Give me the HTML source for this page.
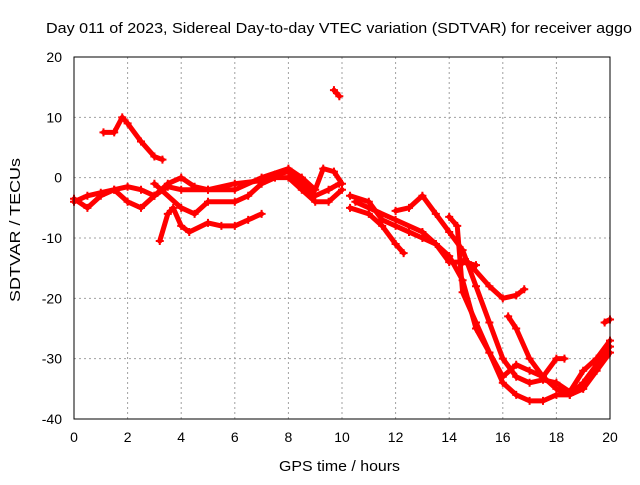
<!DOCTYPE html>
<html><head><meta charset="utf-8"><style>
body{margin:0;background:#fff;width:640px;height:480px;overflow:hidden;font-family:"Liberation Sans",sans-serif;}
svg text{font-family:"Liberation Sans",sans-serif;font-size:14px;fill:#000;}
</style></head><body>
<svg id="chart" width="640" height="480" xmlns="http://www.w3.org/2000/svg">
<text x="46" y="33" textLength="586" lengthAdjust="spacingAndGlyphs" style="font-size:15px">Day 011 of 2023, Sidereal Day-to-day VTEC variation (SDTVAR) for receiver aggo</text>
<text x="279" y="471" textLength="121" lengthAdjust="spacingAndGlyphs" style="font-size:15px">GPS time / hours</text>
<text transform="translate(20,302) rotate(-90)" textLength="144" lengthAdjust="spacingAndGlyphs" style="font-size:15px">SDTVAR / TECUs</text>
<g id="grid"></g><g id="marks"></g><g id="axes"></g>
</svg>
<script>
const xTicks=[0,2,4,6,8,10,12,14,16,18,20];
const yTicks=[20,10,0,-10,-20,-30,-40];
const trackA=[[0,-4],[0.5,-3],[1,-2.5],[1.5,-2],[2,-1.5],[2.5,-2],[3,-3],[3.5,-1],[4,0],[4.5,-1.5],[5,-2],[6,-1],[7,-0.5],[7.5,0.5],[8,1],[8.5,-1],[9,-3],[9.5,-2],[9.9,-1]];
const trackB=[[0,-3.5],[0.5,-5],[1,-3],[1.5,-2],[2,-4],[2.5,-5],[3,-3],[3.5,-1.5],[4,-2],[5,-2],[6,-2],[7,0],[8,1.5],[8.5,0],[9,-2],[9.3,1.5],[9.7,1],[10,-1]];
const trackC=[[1.1,7.5],[1.5,7.5],[1.8,10],[2,9],[2.5,6],[3,3.5],[3.3,3]];
const trackD=[[3.2,-10.5],[3.5,-6],[3.7,-5],[4,-8],[4.3,-9],[5,-7.5],[5.5,-8],[6,-8],[6.5,-7],[7,-6]];
const trackE=[[3,-1],[4,-5],[4.5,-6],[5,-4],[6,-4],[6.5,-3],[7,-1],[7.5,0],[8,0],[8.5,-2],[9,-4],[9.5,-4],[10,-2]];
const trackF=[[9.7,14.5],[9.9,13.5]];
const trackG=[[10.3,-3],[11,-4],[11.5,-7],[12,-8],[12.5,-9],[13,-10],[13.5,-11],[14,-14],[14.5,-14],[15,-14.5]];
const trackH=[[10.3,-5],[11,-6],[11.5,-8],[12,-11],[12.3,-12.5]];
const trackI=[[10.5,-4],[11,-5],[12,-7],[13,-9],[13.5,-11],[14,-13],[14.5,-17],[15,-25],[15.5,-29],[16,-34],[16.5,-36],[17,-37],[17.5,-37],[18,-36],[18.5,-36],[19,-34],[19.5,-31],[20,-28]];
const trackJ=[[12,-5.5],[12.5,-5],[13,-3],[13.5,-6],[14,-9],[14.5,-12],[15,-18],[15.5,-24],[16,-30],[16.5,-33],[17,-34],[17.5,-33.5],[18,-34],[18.5,-35.5],[19,-32],[19.5,-30],[20,-27]];
const trackK=[[14,-6.5],[14.3,-8],[14.5,-19],[15,-24],[15.5,-29],[16,-33],[16.5,-31],[17,-32],[17.5,-33],[18,-30],[18.3,-30]];
const trackL=[[14.7,-14],[15.5,-18],[16,-20],[16.5,-19.5],[16.8,-18.5]];
const trackM=[[16.2,-23],[16.5,-25],[17,-30],[17.5,-33],[18,-35],[18.5,-36],[19,-35],[19.5,-32],[20,-29]];
const trackN=[[19.8,-24],[20,-23.5]];
const tracks=[trackA,trackB,trackC,trackD,trackE,trackF,trackG,trackH,trackI,trackJ,trackK,trackL,trackM,trackN];
const L=74,R=610,T=57,B=419;
const sx=v=>L+(v-0)/20*(R-L);
const sy=v=>B-(v+40)/60*(B-T);
const NS="http://www.w3.org/2000/svg";
const grid=document.getElementById('grid'),axes=document.getElementById('axes'),marks=document.getElementById('marks');
function mk(tag,attrs,parent){const e=document.createElementNS(NS,tag);for(const k in attrs)e.setAttribute(k,attrs[k]);parent.appendChild(e);return e;}
xTicks.forEach(t=>{
 const g=mk('line',{x1:sx(t),x2:sx(t),y1:T,y2:B,stroke:'#a0a0a0','stroke-dasharray':'2,3','stroke-width':1},grid);
 
 
 const tx=mk('text',{x:sx(t),y:B+23,'text-anchor':'middle'},axes);tx.textContent=t;
 
 
});
yTicks.forEach(t=>{
 const g=mk('line',{x1:L,x2:R,y1:sy(t),y2:sy(t),stroke:'#a0a0a0','stroke-dasharray':'2,3','stroke-width':1},grid);
 
 
 const tx=mk('text',{x:L-12,y:sy(t)+5,'text-anchor':'end'},axes);tx.textContent=t;
 
 
});
const frame=mk('rect',{x:L,y:T,width:R-L,height:B-T,fill:'none',stroke:'#000','stroke-width':1},axes);


tracks.forEach(tr=>{
 const p=mk('polyline',{points:tr.map(d=>sx(d[0])+','+sy(d[1])).join(' '),fill:'none',stroke:'#ff0000','stroke-width':5,'stroke-linejoin':'round','stroke-linecap':'round'},marks);
 
 
 tr.forEach(d=>{
  const c=mk('path',{d:`M${sx(d[0])-4},${sy(d[1])}h8M${sx(d[0])},${sy(d[1])-4}v8`,stroke:'#ff0000','stroke-width':2},marks);
  
  
 });
});
</script>
</body></html>
